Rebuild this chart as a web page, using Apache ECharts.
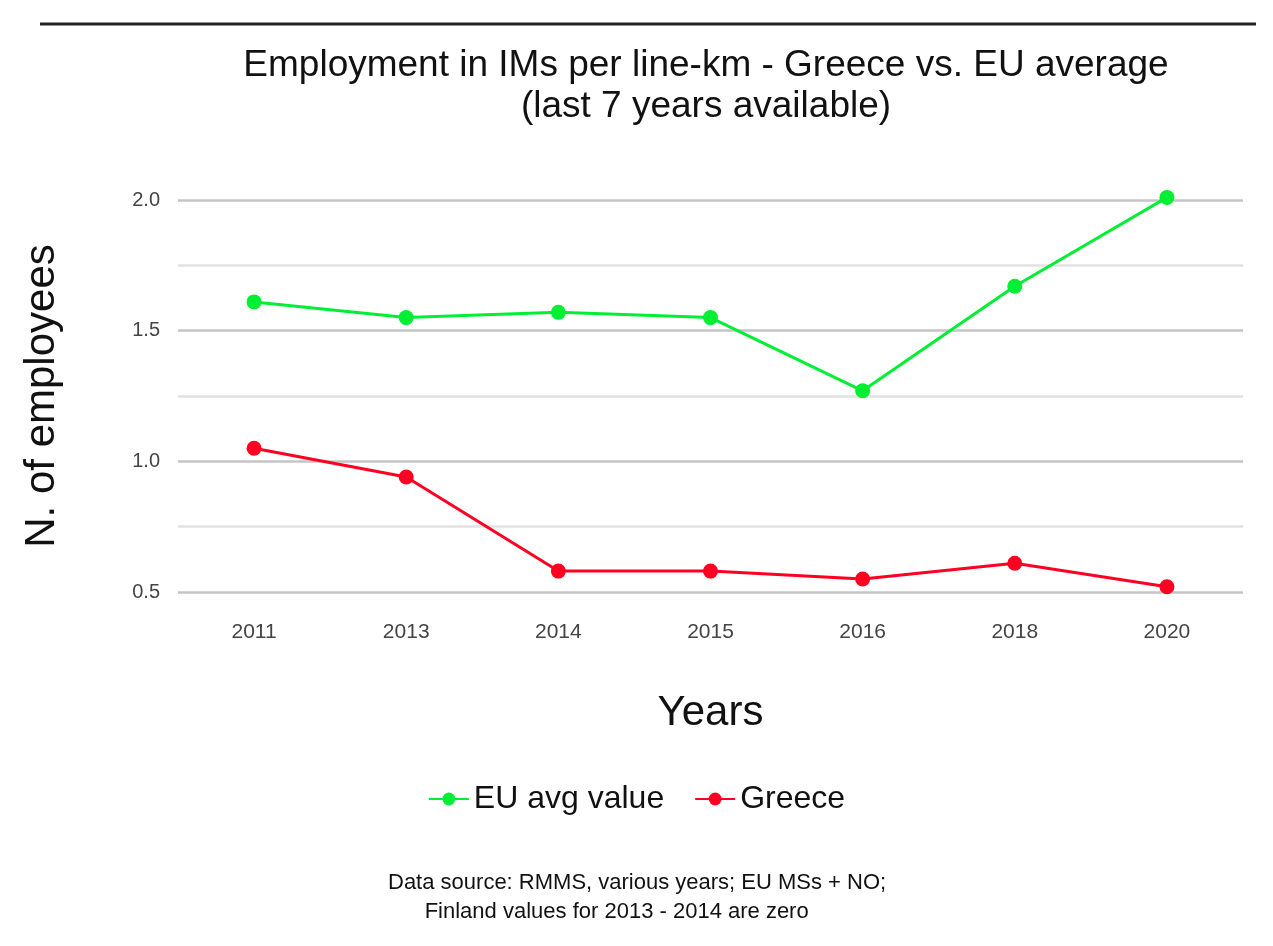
<!DOCTYPE html>
<html><head><meta charset="utf-8">
<script src="https://cdn.jsdelivr.net/npm/echarts@6/dist/echarts.min.js"></script>
<style>html,body{margin:0;background:#fff}#c{width:1273px;height:946px}</style>
</head><body><div id="c"></div>
<script>
const years = ['2011', '2013', '2014', '2015', '2016', '2018', '2020'];
const euAvg = [1.61, 1.55, 1.57, 1.55, 1.27, 1.67, 2.01];
const greece = [1.05, 0.94, 0.58, 0.58, 0.55, 0.61, 0.52];

const chart = echarts.init(document.getElementById('c'));
const font = 'Liberation Sans, Arial, sans-serif';

chart.setOption({
  graphic: [
    { type: 'line', shape: { x1: 40, y1: 24, x2: 1256, y2: 24 }, style: { stroke: '#222', lineWidth: 3 } },
    { type: 'text', left: 388, top: 868, style: {
      text: 'Data source: RMMS, various years; EU MSs + NO;\n      Finland values for 2013 - 2014 are zero',
      font: '22px ' + font, fill: '#111', lineHeight: 29 } }
  ],
  title: {
    text: 'Employment in IMs per line-km - Greece vs. EU average\n(last 7 years available)',
    left: 701, textAlign: 'center', top: 40,
    textStyle: { fontFamily: font, fontSize: 37, fontWeight: 'normal', color: '#111', lineHeight: 41 }
  },
  legend: {
    bottom: 126, left: 'center', itemWidth: 40, itemHeight: 16, itemGap: 30,
    textStyle: { fontFamily: font, fontSize: 32, color: '#111' },
    data: ['EU avg value', 'Greece']
  },
  grid: { left: 178, right: 30, top: 200, bottom: 354 },
  xAxis: {
    type: 'category', data: years, boundaryGap: true,
    name: 'Years', nameLocation: 'middle', nameGap: 100,
    nameTextStyle: { fontFamily: font, fontSize: 42, color: '#111' },
    axisLine: { show: false }, axisTick: { show: false },
    axisLabel: { fontFamily: font, fontSize: 21, color: '#444', margin: 30 }
  },
  yAxis: {
    type: 'value', min: 0.5, max: 2.0, interval: 0.25,
    name: 'N. of employees', nameLocation: 'middle', nameGap: 115,
    nameTextStyle: { fontFamily: font, fontSize: 42, color: '#111' },
    axisLabel: { fontFamily: font, fontSize: 20, color: '#444', margin: 18,
      formatter: v => (Math.abs(v * 2 - Math.round(v * 2)) < 1e-6) ? v.toFixed(1) : '' },
    splitLine: { lineStyle: { color: ['#c4c4c4', '#e2e2e2'], width: 2.5 } }
  },
  series: [
    { name: 'EU avg value', type: 'line', data: euAvg, color: '#00ee33', clip: false,
      symbol: 'circle', symbolSize: 15, lineStyle: { width: 3 } },
    { name: 'Greece', type: 'line', data: greece, color: '#ff0022', clip: false,
      symbol: 'circle', symbolSize: 15, lineStyle: { width: 3 } }
  ]
});
</script></body></html>
